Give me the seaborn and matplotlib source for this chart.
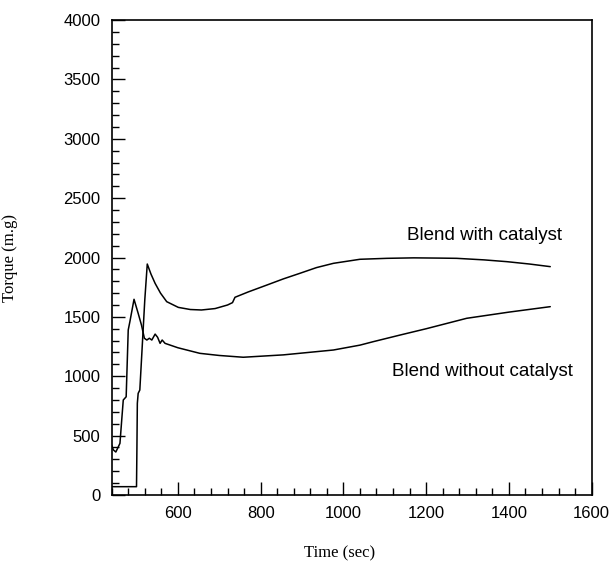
import matplotlib
matplotlib.use('Agg')
import matplotlib.pyplot as plt
import pandas as pd
import seaborn as sns
from matplotlib.ticker import MultipleLocator

# Blend with catalyst (time in sec, torque in m.g)
time_with = [440, 470, 500, 501, 502, 504, 508, 512, 520, 526, 535, 545, 558, 573,
             601, 630, 657, 690, 720, 732, 738, 770, 815, 855, 895, 935, 976, 1040,
             1105, 1170, 1230, 1274, 1340, 1395, 1450, 1500]
torque_with = [70, 70, 70, 400, 772, 856, 884, 1137, 1642, 1945, 1860, 1782, 1700, 1628,
               1580, 1562, 1558, 1570, 1600, 1620, 1665, 1710, 1768, 1820, 1867, 1915, 1951, 1985,
               1993, 1997, 1995, 1993, 1980, 1965, 1945, 1923]

# Blend without catalyst
time_without = [440, 444, 450, 460, 464, 468, 475, 480, 484, 494, 504, 512, 519, 525,
                531, 537, 545, 551, 557, 562, 569, 600, 653, 700, 758, 855, 976, 1040,
                1072, 1137, 1200, 1298, 1400, 1500]
torque_without = [420, 380, 362, 435, 620, 800, 827, 1390, 1460, 1648, 1530, 1431, 1320, 1305,
                  1320, 1305, 1355, 1328, 1277, 1305, 1277, 1240, 1193, 1175, 1160, 1180, 1221, 1262,
                  1291, 1347, 1400, 1488, 1540, 1586]

x_ticks = [600, 800, 1000, 1200, 1400, 1600]
y_ticks = [0, 500, 1000, 1500, 2000, 2500, 3000, 3500, 4000]

sns.set_theme(style="ticks")
plt.rcParams['font.family'] = ['Liberation Sans', 'DejaVu Sans']

df = pd.concat([
    pd.DataFrame({'time': time_with, 'torque': torque_with, 'blend': 'with'}),
    pd.DataFrame({'time': time_without, 'torque': torque_without, 'blend': 'without'}),
], ignore_index=True)

fig = plt.figure(figsize=(6.15, 5.67), dpi=100)
ax = fig.add_axes([0.1816, 0.127, 0.7804, 0.8377])

sns.lineplot(data=df, x='time', y='torque', units='blend', estimator=None, sort=False,
             color='black', linewidth=1.1, ax=ax, legend=False)

ax.set_xlim(440, 1600)
ax.set_ylim(0, 4000)
ax.set_xticks(x_ticks)
ax.set_yticks(y_ticks)
ax.xaxis.set_minor_locator(MultipleLocator(40))
ax.yaxis.set_minor_locator(MultipleLocator(100))
ax.tick_params(which='both', direction='in', color='black', width=1.0,
               labelsize=12, labelcolor='black', top=False, right=False)
ax.tick_params(which='major', length=9.5)
ax.tick_params(which='minor', length=5)
ax.tick_params(axis='y', pad=8)
ax.tick_params(axis='x', pad=8)
for s in ax.spines.values():
    s.set_color('black')
    s.set_linewidth(1.2)
    s.set_visible(True)

ax.set_xlabel('Time (sec)', family=['Liberation Serif'], fontsize=12, color='black')
ax.set_ylabel('Torque (m.g)', family=['Liberation Serif'], fontsize=12, color='black')
ax.xaxis.set_label_coords(0.475, -0.107)
ax.yaxis.set_label_coords(-0.195, 0.5)

ax.text(1341, 2189, 'Blend with catalyst', ha='center', va='center', fontsize=13.5, color='black')
ax.text(1337, 1038, 'Blend without catalyst', ha='center', va='center', fontsize=13.5, color='black')

fig.savefig('out.png', dpi=100, facecolor='white')
